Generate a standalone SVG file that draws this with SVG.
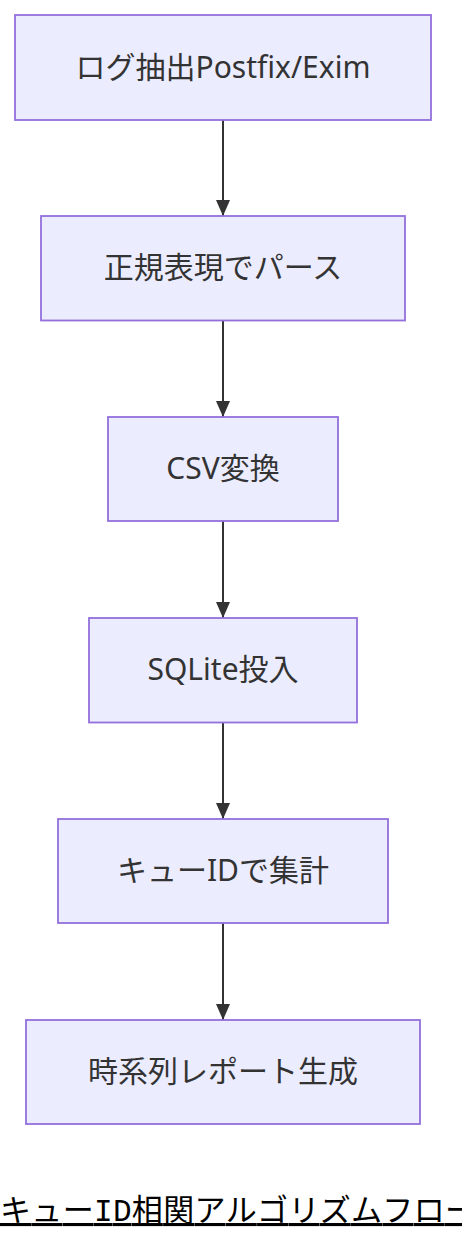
<svg xmlns="http://www.w3.org/2000/svg" width="462" height="1244" viewBox="0 0 462 1244">
<style>
.node rect{fill:#ECECFF;stroke:#9370DB;stroke-width:1.8px;}
.node text{font-family:"Noto Sans","Noto Sans CJK JP",sans-serif;font-size:30px;fill:#333;text-anchor:middle;}
.edge{stroke:#333;stroke-width:2px;fill:none;}
.title{font-family:"Liberation Mono","Noto Sans Mono CJK JP","Noto Sans CJK JP",monospace;font-size:31px;fill:#000;text-decoration:underline;}
</style>
<defs>
<marker id="arrow" viewBox="0 0 16 14" refX="16" refY="7" markerWidth="16" markerHeight="14" markerUnits="userSpaceOnUse" orient="auto">
<path d="M0,0 L16,7 L0,14 z" fill="#333"/>
</marker>
</defs>
<rect width="462" height="1244" fill="#fff"/>
<g id="edges">
<line class="edge" x1="223" y1="120" x2="223" y2="216" marker-end="url(#arrow)"/>
<line class="edge" x1="223" y1="321" x2="223" y2="417" marker-end="url(#arrow)"/>
<line class="edge" x1="223" y1="521" x2="223" y2="618" marker-end="url(#arrow)"/>
<line class="edge" x1="223" y1="722" x2="223" y2="819" marker-end="url(#arrow)"/>
<line class="edge" x1="223" y1="923" x2="223" y2="1020" marker-end="url(#arrow)"/>
</g>
<g id="n1" class="node"><rect x="15" y="15" width="416" height="105"/><text x="223" y="77.5">ログ抽出Postfix/Exim</text></g>
<g id="n2" class="node"><rect x="41" y="216" width="364" height="104.5"/><text x="223" y="278">正規表現でパース</text></g>
<g id="n3" class="node"><rect x="108" y="417" width="230" height="104"/><text x="223" y="479">CSV変換</text></g>
<g id="n4" class="node"><rect x="89" y="618" width="268" height="104.5"/><text x="223" y="680">SQLite投入</text></g>
<g id="n5" class="node"><rect x="58" y="819" width="330" height="104"/><text x="223" y="881">キューIDで集計</text></g>
<g id="n6" class="node"><rect x="26" y="1020" width="394" height="104"/><text x="223" y="1082">時系列レポート生成</text></g>
<text id="title" class="title" x="0" y="1221" textLength="476" lengthAdjust="spacing">キューID相関アルゴリズムフロー</text>
</svg>
